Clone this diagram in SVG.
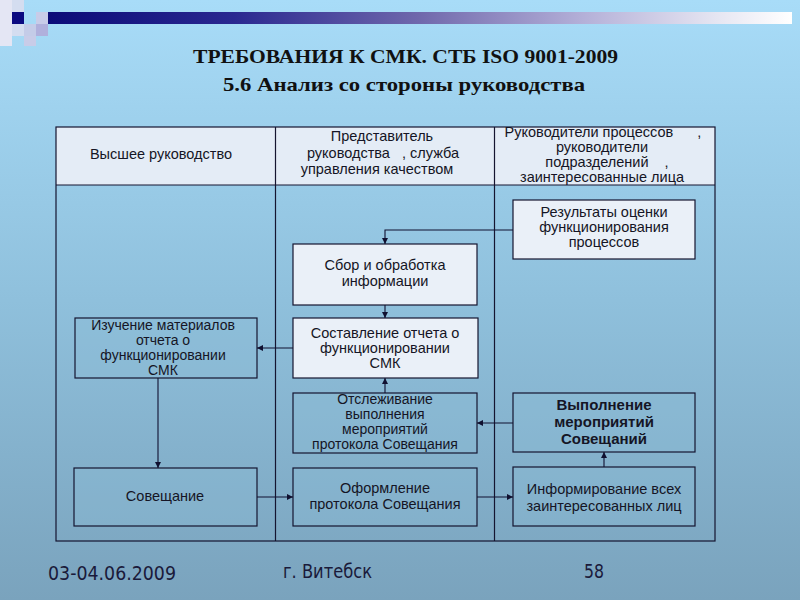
<svg xmlns="http://www.w3.org/2000/svg" width="800" height="600" viewBox="0 0 800 600">
<defs>
<linearGradient id="bg" x1="0" y1="0" x2="0" y2="1">
<stop offset="0" stop-color="#a8dcf8"/>
<stop offset="0.5" stop-color="#8fc0dc"/>
<stop offset="1" stop-color="#7aa3bd"/>
</linearGradient>
<linearGradient id="bar" x1="0" y1="0" x2="1" y2="0">
<stop offset="0" stop-color="#0b0b78"/>
<stop offset="0.25" stop-color="#2a2890"/>
<stop offset="0.5" stop-color="#7068ac"/>
<stop offset="0.72" stop-color="#b4b0d8"/>
<stop offset="0.9" stop-color="#e6e6f2"/>
<stop offset="1" stop-color="#ffffff"/>
</linearGradient>
<marker id="ah" markerWidth="7" markerHeight="7" refX="6" refY="3" orient="auto" markerUnits="userSpaceOnUse">
<path d="M0,0 L6,3 L0,6 z" fill="#101030"/>
</marker>
<style>
.title{font-family:"Liberation Serif","Times New Roman",serif;font-weight:bold;font-size:19px;fill:#111}
.t{font-family:"Liberation Sans",Arial,sans-serif;font-size:14.5px;fill:#151525;text-anchor:middle}
.s{font-size:14px}
.b{font-weight:bold;font-size:15px}
.foot{font-family:"Liberation Sans Narrow","DejaVu Sans Condensed","Liberation Sans",sans-serif;font-size:20px;fill:#1a1a3a}
.box{stroke:#151530;stroke-width:1.2}
.light{fill:#eaf0f8}
.dark{fill:#8dbcd8;fill-opacity:0.35}
.grid{fill:none;stroke:#151530;stroke-width:1.2}
.conn{fill:none;stroke:#101030;stroke-width:1.1;marker-end:url(#ah)}
</style>
</defs>
<rect width="800" height="600" fill="url(#bg)"/>
<g id="decor">
<rect x="0" y="0" width="12" height="46" fill="#e4e6f4"/>
<rect x="12" y="0" width="12" height="36" fill="#d4ddf0"/>
<rect x="12" y="12" width="12" height="12" fill="#0a0a80"/>
<rect x="24" y="24" width="12" height="12" fill="#c4cce8"/>
<rect x="36" y="24" width="12" height="12" fill="#b0b0dc"/>
<rect x="36" y="12" width="12" height="12" fill="#c8cce8"/>
<rect x="24" y="36" width="12" height="10" fill="#c8cce8"/>
<rect x="48" y="12" width="744" height="12" fill="url(#bar)"/>
</g>
<g id="title">
<text class="title" x="193" y="63" textLength="425" lengthAdjust="spacingAndGlyphs">ТРЕБОВАНИЯ К СМК. СТБ ISO 9001-2009</text>
<text class="title" x="223" y="91" textLength="362" lengthAdjust="spacingAndGlyphs">5.6 Анализ со стороны руководства</text>
</g>
<g id="table">
<rect x="56" y="127" width="659" height="58" fill="#e4ecf6"/>
<rect x="56" y="127" width="659" height="414" class="grid"/>
<line x1="56" y1="185" x2="715" y2="185" class="grid"/>
<line x1="275.5" y1="127" x2="275.5" y2="541" class="grid"/>
<line x1="494.5" y1="127" x2="494.5" y2="541" class="grid"/>
<text class="t" x="161" y="159">Высшее руководство</text>
<text class="t" x="382" y="141">Представитель</text>
<text class="t" x="383" y="158" xml:space="preserve">руководства   , служба</text>
<text class="t" x="377" y="174">управления качеством</text>
<text class="t" x="603" y="137" xml:space="preserve">Руководители процессов      ,</text>
<text class="t" x="602" y="152">руководители</text>
<text class="t" x="607" y="167" xml:space="preserve">подразделений    ,</text>
<text class="t" x="602" y="182">заинтересованные лица</text>
</g>
<g id="connectors">
<path class="conn" d="M513,230 H385 V244"/>
<path class="conn" d="M385,305 V318"/>
<path class="conn" d="M293,348 H257"/>
<path class="conn" d="M385,393 V378"/>
<path class="conn" d="M513,423 H477"/>
<path class="conn" d="M158,378 V468"/>
<path class="conn" d="M257,497 H293"/>
<path class="conn" d="M477,497 H513"/>
<path class="conn" d="M604,467 V452"/>
</g>
<g id="n1">
<rect x="513" y="200" width="182" height="59" class="box light"/>
<text class="t" x="604" y="217">Результаты оценки</text>
<text class="t" x="604" y="232">функционирования</text>
<text class="t" x="604" y="247">процессов</text>
</g>
<g id="n2">
<rect x="293" y="244" width="184" height="61" class="box light"/>
<text class="t" x="385" y="270">Сбор и обработка</text>
<text class="t" x="385" y="286">информации</text>
</g>
<g id="n3">
<rect x="293" y="318" width="185" height="60" class="box light"/>
<text class="t" x="385" y="338">Составление отчета о</text>
<text class="t" x="385" y="353">функционировании</text>
<text class="t" x="385" y="368">СМК</text>
</g>
<g id="n4">
<rect x="75" y="318" width="182" height="60" class="box dark"/>
<text class="t s" x="163" y="330">Изучение материалов</text>
<text class="t s" x="163" y="345">отчета о</text>
<text class="t s" x="163" y="360">функционировании</text>
<text class="t s" x="163" y="375">СМК</text>
</g>
<g id="n5">
<rect x="293" y="393" width="184" height="60" class="box dark"/>
<text class="t s" x="385" y="404">Отслеживание</text>
<text class="t s" x="385" y="419">выполнения</text>
<text class="t s" x="385" y="434">мероприятий</text>
<text class="t s" x="385" y="449">протокола Совещания</text>
</g>
<g id="n6">
<rect x="513" y="393" width="182" height="59" class="box dark"/>
<text class="t b" x="604" y="410">Выполнение</text>
<text class="t b" x="604" y="427">мероприятий</text>
<text class="t b" x="604" y="444">Совещаний</text>
</g>
<g id="n7">
<rect x="513" y="467" width="182" height="59" class="box dark"/>
<text class="t" x="604" y="494">Информирование всех</text>
<text class="t" x="604" y="511">заинтересованных лиц</text>
</g>
<g id="n8">
<rect x="74" y="468" width="183" height="58" class="box dark"/>
<text class="t" x="165" y="501">Совещание</text>
</g>
<g id="n9">
<rect x="293" y="468" width="184" height="58" class="box dark"/>
<text class="t" x="385" y="493">Оформление</text>
<text class="t" x="385" y="509">протокола Совещания</text>
</g>
<g id="footer">
<text class="foot" x="48" y="580" textLength="128" lengthAdjust="spacingAndGlyphs">03-04.06.2009</text>
<text class="foot" x="283" y="578" textLength="89" lengthAdjust="spacingAndGlyphs">г. Витебск</text>
<text class="foot" x="584" y="578" textLength="20" lengthAdjust="spacingAndGlyphs">58</text>
</g>
</svg>
